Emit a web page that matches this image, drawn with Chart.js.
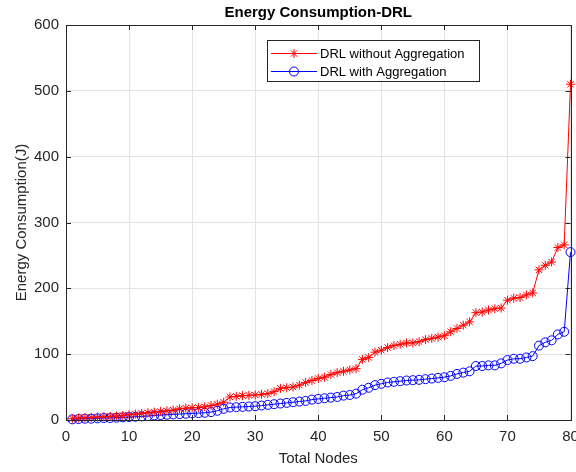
<!DOCTYPE html>
<html>
<head>
<meta charset="utf-8">
<script src="https://cdn.jsdelivr.net/npm/chart.js@4"></script>
<style>
html, body { margin: 0; padding: 0; background: #fff; }
#chart-container { width: 576px; height: 472px; }
</style>
</head>
<body>
<div id="chart-container"><canvas id="myChart"></canvas></div>
<script>
var nodes = [];
for (var n = 1; n <= 80; n++) nodes.push(n);

var drlWithout = [2, 3, 3.5, 4, 4.5, 5, 5.5, 6, 7, 8,
  9, 10, 11, 12, 13, 14, 15, 17, 18, 18.5,
  19, 20, 22, 24, 27, 35, 36, 37, 37.5, 38,
  39, 40, 43, 48, 49, 50, 53, 57, 60, 63,
  65, 69, 72, 74, 76, 78, 92, 95, 103, 106,
  110, 113, 115, 117, 117, 119, 122, 124, 126, 128,
  134, 139, 144, 149, 163, 164, 167, 169, 170, 182,
  185, 186, 190, 193, 228, 235, 240, 262, 266, 510];

var drlWith = [1, 1.5, 2, 2, 2.5, 3, 3, 3.5, 4, 4.5,
  5, 5.5, 6, 7, 7.5, 8, 8.5, 9, 9.5, 10,
  10.5, 11, 12, 14, 17, 19, 19.5, 20, 20.5, 21,
  22, 23, 24, 25, 26, 27, 28, 29, 31, 32,
  33, 34, 35, 37, 38, 40, 46, 49, 53, 55,
  57, 58, 59, 60, 60.5, 61, 62, 63, 64, 65,
  67, 70, 72, 74, 82, 82, 83, 83, 86, 91,
  93, 93, 95, 97, 113, 118, 121, 130, 134, 255];

var xTicks = [0, 10, 20, 30, 40, 50, 60, 70, 80];
var yTicks = [0, 100, 200, 300, 400, 500, 600];

var seriesNames = ['DRL without Aggregation', 'DRL with Aggregation'];
var axisColor = '#262626';
var fontFamily = '"Liberation Sans", Arial, Helvetica, sans-serif';

function toPoints(ys) {
  return nodes.map(function (x, i) { return { x: x, y: ys[i] }; });
}

// title, box, inward ticks and MATLAB-like legend
var matlabLook = {
  id: 'matlabLook',
  afterDraw: function (chart) {
    var ctx = chart.ctx;
    var a = chart.chartArea;
    var xs = chart.scales.x, ys = chart.scales.y;
    ctx.save();
    ctx.strokeStyle = axisColor;
    ctx.lineWidth = 1;
    ctx.beginPath();
    xTicks.forEach(function (t) {
      var px = Math.round(xs.getPixelForValue(t)) + 0.5;
      ctx.moveTo(px, a.bottom); ctx.lineTo(px, a.bottom - 5);
      ctx.moveTo(px, a.top); ctx.lineTo(px, a.top + 5);
    });
    yTicks.forEach(function (t) {
      var py = Math.round(ys.getPixelForValue(t)) + 0.5;
      ctx.moveTo(a.left, py); ctx.lineTo(a.left + 5, py);
      ctx.moveTo(a.right, py); ctx.lineTo(a.right - 5, py);
    });
    ctx.stroke();
    ctx.strokeRect(Math.round(a.left) + 0.5, Math.round(a.top) + 0.5,
      Math.round(a.right - a.left), Math.round(a.bottom - a.top));

    // title
    ctx.fillStyle = '#000';
    ctx.font = 'bold 15px ' + fontFamily;
    ctx.textAlign = 'center';
    ctx.textBaseline = 'middle';
    ctx.fillText('Energy Consumption-DRL', (a.left + a.right) / 2, 13);

    // legend
    var bx = 267, by = 40, bw = 212, bh = 41;
    ctx.fillStyle = '#fff';
    ctx.fillRect(bx, by, bw, bh);
    ctx.strokeStyle = axisColor;
    ctx.strokeRect(bx + 0.5, by + 0.5, bw, bh);
    ctx.font = '13px ' + fontFamily;
    ctx.textAlign = 'left';
    chart.data.datasets.forEach(function (ds, i) {
      var ry = 53 + i * 18;
      ctx.strokeStyle = ds.borderColor;
      ctx.lineWidth = 1;
      ctx.beginPath();
      ctx.moveTo(271, ry + 0.5); ctx.lineTo(317, ry + 0.5);
      ctx.stroke();
      ctx.fillStyle = 'rgba(0,0,0,0)';
      Chart.helpers.drawPoint(ctx, {
        pointStyle: ds.pointStyle, radius: ds.pointRadius, borderWidth: 1
      }, 294, ry + 0.5);
      ctx.fillStyle = '#000';
      ctx.fillText(ds.label, 320, ry + 1);
    });
    ctx.restore();
  }
};

var ctx = document.getElementById('myChart');
var myChart = new Chart(ctx, {
  type: 'line',
  data: {
    datasets: [{
      label: seriesNames[0],
      data: toPoints(drlWithout),
      borderColor: '#ff0000',
      backgroundColor: 'rgba(0,0,0,0)',
      borderWidth: 1,
      pointStyle: 'star',
      pointRadius: 4.5,
      pointBorderWidth: 1,
      pointBorderColor: '#ff0000',
      clip: 10
    }, {
      label: seriesNames[1],
      data: toPoints(drlWith),
      borderColor: '#0000ff',
      backgroundColor: 'rgba(0,0,0,0)',
      borderWidth: 1,
      pointStyle: 'circle',
      pointRadius: 4.5,
      pointBorderWidth: 1,
      pointBorderColor: '#0000ff',
      clip: 10
    }]
  },
  options: {
    responsive: true,
    maintainAspectRatio: false,
    animation: false,
    layout: { padding: { top: 25, right: 5, left: 0, bottom: 0 } },
    plugins: {
      legend: { display: false },
      title: { display: false },
      tooltip: { enabled: false }
    },
    scales: {
      x: {
        type: 'linear',
        min: 0, max: 80,
        afterBuildTicks: function (s) { s.ticks = xTicks.map(function (v) { return { value: v }; }); },
        afterFit: function (s) { s.height = 52; s.paddingLeft = 0; s.paddingRight = 0; },
        ticks: { color: axisColor, padding: 8, maxRotation: 0, font: { family: fontFamily, size: 15 } },
        grid: { color: '#e3e3e3', drawTicks: false },
        border: { color: axisColor },
        title: {
          display: true, text: 'Total Nodes', color: axisColor,
          font: { family: fontFamily, size: 15 }, padding: { top: 0, bottom: 4 }
        }
      },
      y: {
        min: 0, max: 600,
        afterBuildTicks: function (s) { s.ticks = yTicks.map(function (v) { return { value: v }; }); },
        afterFit: function (s) { s.width = 66; },
        ticks: { color: axisColor, padding: 7, font: { family: fontFamily, size: 15 } },
        grid: { color: '#e3e3e3', drawTicks: false },
        border: { color: axisColor },
        title: {
          display: true, text: 'Energy Consumption(J)', color: axisColor,
          font: { family: fontFamily, size: 15 }, padding: { top: 13, bottom: 0 }
        }
      }
    }
  },
  plugins: [matlabLook]
});
</script>
</body>
</html>
